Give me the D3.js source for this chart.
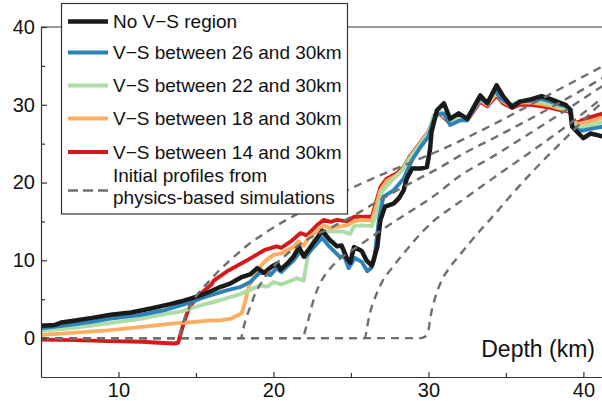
<!DOCTYPE html>
<html><head><meta charset="utf-8">
<script src="https://cdn.jsdelivr.net/npm/d3@7"></script>
<style>
html,body{margin:0;padding:0;background:#fff;}
svg{display:block;font-family:"Liberation Sans",Arial,Helvetica,sans-serif;}
</style></head><body>
<svg id="chart" width="602" height="401"></svg>
<script>
// ---------- data ----------
const xTicks = [10, 20, 30, 40];
const xMinorTicks = [15, 25, 35];
const yTicks = [0, 10, 20, 30, 40];
const yMinorTicks = [5, 15, 25, 35];
const xLabel = "Depth (km)";
const seriesNames = ["No V\u2212S region", "V\u2212S between 26 and 30km", "V\u2212S between 22 and 30km",
  "V\u2212S between 18 and 30km", "V\u2212S between 14 and 30km"];
const dashedLabel = ["Initial profiles from", "physics-based simulations"];
const seriesColors = ["#1a1a1a", "#2b83ba", "#abdda4", "#fdae61", "#d7191c"];

const noVS = [[5.0,1.6],[5.9,1.7],[6.3,2.0],[7.0,2.2],[8.3,2.6],[9.5,3.0],[10.8,3.3],[12.1,3.8],[13.4,4.4],[14.0,4.7],[14.7,5.1],[15.3,5.5],[15.8,5.9],[16.6,6.6],[17.2,7.0],[17.9,7.8],[18.5,8.2],[18.95,9.0],[19.4,8.4],[19.9,9.2],[20.25,9.6],[20.45,8.8],[20.9,9.6],[21.3,10.5],[21.65,11.7],[21.95,10.5],[22.5,12.0],[23.15,13.8],[23.6,12.7],[24.1,11.8],[24.4,11.9],[24.75,10.2],[24.95,9.7],[25.2,11.7],[25.7,11.2],[26.0,10.0],[26.35,9.3],[26.7,11.7],[26.9,15.2],[27.2,16.9],[27.75,17.3],[28.1,18.0],[28.4,19.0],[28.6,20.5],[28.95,21.8],[29.5,21.8],[29.9,22.0],[30.1,24.2],[30.2,26.5],[30.55,29.3],[31.0,30.2],[31.4,28.2],[31.95,28.9],[32.5,28.2],[33.35,31.2],[33.8,30.2],[34.4,32.5],[34.85,31.0],[35.4,29.7],[35.9,30.4],[36.6,30.7],[37.3,31.1],[37.8,30.8],[38.3,30.4],[38.85,30.0],[39.15,29.3],[39.27,27.2],[39.6,26.5],[40.0,25.7],[40.45,26.3],[41.3,25.9]];
const vs26 = [[5.0,1.25],[6.5,1.6],[8.3,2.1],[9.5,2.5],[11.5,3.0],[13.0,3.6],[14.0,4.2],[14.7,4.6],[15.3,5.1],[16.6,5.9],[17.1,6.2],[17.9,6.6],[18.5,7.2],[19.15,8.5],[19.8,8.1],[20.2,9.0],[20.5,8.5],[21.3,10.0],[21.7,11.1],[22.05,10.4],[22.6,11.7],[23.15,12.9],[23.55,11.9],[24.3,10.4],[24.55,10.6],[24.85,9.0],[25.25,10.3],[25.7,9.8],[26.05,8.6],[26.3,9.0],[26.5,10.0],[26.8,15.2],[27.1,18.2],[27.75,19.0],[28.4,20.5],[28.95,22.9],[29.5,24.6],[30.0,25.9],[30.2,27.2],[30.45,28.7],[31.0,28.9],[31.4,27.4],[32.06,28.0],[32.5,28.0],[33.35,30.8],[33.8,30.2],[34.3,31.9],[34.65,30.8],[35.4,29.9],[35.9,30.4],[36.6,30.5],[37.3,30.75],[37.9,30.4],[38.5,30.0],[38.95,29.8],[39.2,29.4],[39.3,27.2],[39.7,26.7],[40.0,26.7],[40.45,26.9],[41.3,27.2]];
const vs22 = [[5.0,0.95],[7.0,1.3],[9.0,1.8],[11.5,2.5],[13.0,3.1],[14.0,3.4],[15.3,4.2],[16.6,4.9],[17.9,5.7],[18.5,6.2],[19.15,6.8],[19.6,6.6],[20.0,7.2],[20.5,6.9],[20.9,7.2],[21.5,7.7],[21.95,7.4],[22.1,9.2],[22.25,10.9],[22.6,12.6],[23.0,13.2],[23.5,13.7],[24.5,13.7],[24.95,13.4],[25.2,14.4],[25.7,14.5],[26.35,14.4],[26.7,16.3],[27.0,18.8],[27.55,20.1],[28.3,21.6],[28.85,23.3],[29.5,25.0],[30.0,26.3],[30.35,28.7],[30.77,29.1],[31.4,27.9],[32.06,28.3],[32.5,28.2],[33.35,30.7],[33.8,30.1],[34.35,31.8],[34.7,30.7],[35.4,30.0],[35.9,30.5],[36.6,30.5],[37.3,30.4],[37.85,30.1],[38.5,29.7],[38.95,29.5],[39.2,29.2],[39.3,27.6],[39.7,27.1],[40.0,27.2],[40.45,27.4],[41.3,27.8]];
const vs18 = [[5.0,0.4],[7.2,0.7],[9.3,1.0],[11.5,1.45],[13.6,1.9],[14.5,2.0],[15.8,2.25],[16.6,2.3],[17.25,2.5],[17.95,3.2],[18.2,4.9],[18.4,6.6],[18.85,8.3],[19.4,9.8],[20.0,10.7],[20.5,10.9],[20.9,11.3],[21.3,11.7],[21.6,12.4],[21.95,11.9],[22.3,13.0],[22.8,13.7],[23.25,14.5],[23.7,14.1],[24.1,14.3],[24.75,14.5],[25.2,15.0],[25.7,15.2],[26.35,15.1],[26.6,16.8],[26.9,19.0],[27.3,20.2],[28.0,21.0],[28.4,21.8],[28.85,23.3],[29.5,25.1],[30.0,26.4],[30.35,28.6],[30.7,29.0],[31.4,27.8],[32.06,28.4],[32.5,28.2],[33.35,30.6],[33.8,30.0],[34.4,31.5],[34.75,30.5],[35.4,29.8],[35.9,30.3],[36.6,30.3],[37.3,30.1],[37.85,29.9],[38.5,29.5],[38.95,29.4],[39.2,29.0],[39.3,27.9],[39.7,27.5],[40.0,27.7],[40.45,27.9],[41.3,28.4]];
const vs14 = [[5.0,-0.2],[7.2,-0.26],[9.3,-0.39],[11.5,-0.47],[12.6,-0.6],[13.6,-0.69],[13.85,-0.6],[13.96,0.2],[14.17,1.7],[14.5,3.6],[14.65,4.2],[15.14,5.3],[15.3,5.7],[16.0,6.9],[16.15,7.4],[17.1,8.7],[18.3,10.0],[19.4,11.3],[20.2,11.8],[20.5,11.6],[21.1,12.4],[21.75,13.5],[22.15,13.2],[22.8,14.5],[23.25,15.2],[23.7,14.95],[24.1,15.2],[24.75,15.0],[25.2,15.6],[25.7,15.6],[26.35,15.6],[26.6,17.3],[26.9,19.4],[27.3,20.5],[27.97,21.2],[28.4,22.0],[28.85,23.5],[29.5,25.2],[30.0,26.5],[30.35,28.4],[30.7,28.9],[31.4,27.6],[32.06,28.2],[32.5,28.0],[33.35,30.4],[33.8,29.8],[34.4,31.2],[34.8,30.2],[35.4,29.6],[35.9,30.0],[36.6,30.0],[37.3,29.8],[37.87,29.6],[38.5,29.3],[38.95,29.2],[39.16,29.0],[39.3,28.0],[39.6,27.7],[40.0,28.1],[40.45,28.4],[41.3,28.9]];

const init14 = [[5,0],[13.9,0],[14.05,1.2],[14.3,2.7],[14.7,4.4],[15.2,5.9],[15.8,7.2],[16.4,8.5],[17.2,10.0],[18.3,11.9],[19.6,13.7],[21.1,15.5],[22.8,17.2],[24.5,18.8],[26.5,20.6],[28.5,22.3],[30.8,24.2],[32.5,25.8],[34.6,27.9],[37.5,31.0],[41.3,35.0]];
const init18 = [[5,0],[17.9,0],[18.05,1.2],[18.2,2.3],[18.5,4.0],[18.8,5.6],[19.3,7.4],[20.0,9.2],[21.0,11.0],[22.3,12.8],[23.7,14.2],[25.3,15.9],[27.0,17.9],[29.0,20.1],[30.8,22.0],[32.06,23.5],[34.2,25.7],[37.5,29.2],[41.3,33.5]];
const init22 = [[5,0],[21.9,0],[22.05,1.0],[22.2,2.0],[22.6,5.0],[23.0,7.0],[23.6,8.8],[24.3,10.2],[25.6,12.0],[26.9,13.8],[28.6,16.0],[30.3,18.2],[32.06,20.9],[34.2,23.4],[37.0,26.9],[41.3,32.5]];
const init26 = [[5,0],[25.9,0],[26.05,1.5],[26.2,3.0],[26.5,4.9],[27.0,7.2],[27.6,8.9],[28.4,10.9],[29.3,13.0],[30.3,15.0],[31.3,16.5],[32.3,17.9],[34.2,20.6],[36.5,23.8],[39.0,27.4],[41.3,31.0]];
const init30 = [[5,0],[29.5,0],[29.8,0.2],[30.0,1.0],[30.13,2.7],[30.45,5.3],[30.88,7.5],[31.42,9.2],[32.15,11.0],[33.1,13.3],[34.0,15.3],[35.3,18.3],[37.0,22.0],[38.95,25.9],[40.3,28.6],[41.3,30.5]];

// ---------- layout ----------
const svg = d3.select("#chart");
const L = 41, R = 602, T = 27, B = 377;
const x = d3.scaleLinear().domain([5, 41.2]).range([L, R]);
const y = d3.scaleLinear().domain([-5, 40]).range([B, T]);
const axisColor = "#333";

svg.append("defs").append("clipPath").attr("id", "clip")
  .append("rect").attr("x", L).attr("y", T).attr("width", R - L).attr("height", B - T);

const plot = svg.append("g").attr("clip-path", "url(#clip)");

const lineLin = d3.line().x(d => x(d[0])).y(d => y(d[1]));
const lineSmooth = d3.line().x(d => x(d[0])).y(d => y(d[1])).curve(d3.curveMonotoneX);

// solid series (drawn bottom to top)
const series = [noVS, vs26, vs22, vs18, vs14];
const drawOrder = [4, 3, 2, 1, 0];
drawOrder.forEach(i => {
  plot.append("path").datum(series[i])
    .attr("d", lineLin)
    .attr("fill", "none")
    .attr("stroke", seriesColors[i])
    .attr("stroke-width", i === 0 ? 4.5 : 3.9)
    .attr("stroke-linejoin", "round")
    .attr("stroke-linecap", "round");
});

// dashed initial profiles
[init14, init18, init22, init26, init30].forEach(p => {
  plot.append("path").datum(p)
    .attr("d", lineSmooth)
    .attr("fill", "none")
    .attr("stroke", "#6f6f6f")
    .attr("stroke-width", 2.4)
    .attr("stroke-dasharray", "8,6");
});

// axes
const gx = svg.append("g").attr("transform", `translate(0,${B})`)
  .call(d3.axisBottom(x).tickValues(xTicks).tickSizeInner(-5).tickSizeOuter(0).tickPadding(6).tickFormat(d3.format("d")));
const gxm = svg.append("g").attr("transform", `translate(0,${B})`)
  .call(d3.axisBottom(x).tickValues(xMinorTicks).tickSizeInner(-4).tickSizeOuter(0).tickFormat(""));
const gy = svg.append("g").attr("transform", `translate(${L},0)`)
  .call(d3.axisLeft(y).tickValues(yTicks).tickSizeInner(-6).tickSizeOuter(0).tickPadding(6).tickFormat(d3.format("d")));
const gym = svg.append("g").attr("transform", `translate(${L},0)`)
  .call(d3.axisLeft(y).tickValues(yMinorTicks).tickSizeInner(-4).tickSizeOuter(0).tickFormat(""));

[gx, gxm, gy, gym].forEach(g => {
  g.selectAll("path.domain").attr("stroke", axisColor).attr("stroke-width", 1.2);
  g.selectAll(".tick line").attr("stroke", axisColor).attr("stroke-width", 1.2);
  g.selectAll(".tick text").attr("fill", "#111").style("font-size", "20px")
    .style("font-family", '"Liberation Sans",Arial,Helvetica,sans-serif');
});
gxm.select("path.domain").remove();
gym.select("path.domain").remove();

// top border
svg.append("line").attr("x1", L).attr("x2", R).attr("y1", y(40)).attr("y2", y(40))
  .attr("stroke", axisColor).attr("stroke-width", 1.2);

// x label
svg.append("text").attr("x", 595).attr("y", 357).attr("text-anchor", "end")
  .style("font-size", "23px").attr("fill", "#111").text(xLabel);

// legend
const lg = svg.append("g");
lg.append("rect").attr("x", 61.5).attr("y", 3.5).attr("width", 286).attr("height", 210.5)
  .attr("fill", "#fff").attr("stroke", "#333").attr("stroke-width", 1.2);
const rowY = [21.5, 52.5, 85.5, 118.5, 152];
seriesNames.forEach((name, i) => {
  lg.append("line").attr("x1", 68).attr("x2", 108).attr("y1", rowY[i]).attr("y2", rowY[i])
    .attr("stroke", seriesColors[i]).attr("stroke-width", i === 0 ? 4.5 : 3.9);
  lg.append("text").attr("x", 113).attr("y", rowY[i] + 6.8).style("font-size", "19px")
    .attr("fill", "#111").text(name);
});
lg.append("line").attr("x1", 68).attr("x2", 108).attr("y1", 190.5).attr("y2", 190.5)
  .attr("stroke", "#6f6f6f").attr("stroke-width", 2.4).attr("stroke-dasharray", "10,5");
dashedLabel.forEach((t, i) => {
  lg.append("text").attr("x", 113).attr("y", 182 + i * 22).style("font-size", "19px")
    .attr("fill", "#111").text(t);
});
</script>
</body></html>
